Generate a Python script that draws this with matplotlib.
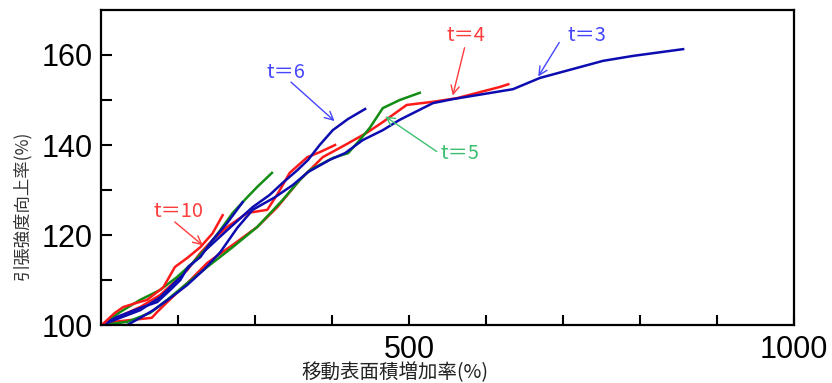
import matplotlib
matplotlib.use('Agg')
import matplotlib.pyplot as plt

# curves (x: surface area increase %, y: tensile strength increase %)
red_t10_x = [101, 118, 129, 142, 160, 181, 196, 212, 229, 245, 258]
red_t10_y = [100, 102.7, 104, 104.7, 105.6, 108.4, 112.9, 114.9, 117.3, 120.4, 124.4]

blue_s_x = [101, 121, 151, 173, 190, 203, 213, 229, 245, 264, 284]
blue_s_y = [100, 101.8, 103.8, 105.1, 107.8, 110, 112.9, 115.1, 118.9, 122.7, 127.3]

green_s_x = [101, 125, 151, 177, 199, 219, 238, 255, 271, 290, 303, 322]
green_s_y = [100, 102.9, 105.6, 107.8, 110.7, 113.8, 117.3, 121.1, 124.9, 128.4, 130.7, 133.8]

blue_t6_x = [101, 125, 151, 177, 199, 229, 264, 297, 319, 336, 355, 369, 384, 401, 421, 443]
blue_t6_y = [100, 101.6, 103.3, 106.2, 110, 115.6, 121.1, 126.2, 128.9, 131.6, 134.4, 136.7, 140, 143.3, 145.8, 148]

blue_t3_x = [134, 151, 168, 190, 212, 233, 255, 277, 297, 326, 349, 369, 397, 417, 440, 466, 488,
             531, 557, 635, 670, 752, 791, 856]
blue_t3_y = [100, 101.6, 103.3, 106, 108.9, 112.2, 116.2, 121.6, 125.6, 128.4, 131.1, 134, 136.7, 138.2,
             141.1, 143.3, 145.6, 149.3, 150.2, 152.4, 154.9, 158.7, 159.8, 161.3]

green_t5_x = [101, 134, 164, 186, 212, 238, 271, 303, 336, 358, 371, 401, 421, 436, 449, 466, 488, 514]
green_t5_y = [100, 100.7, 102.7, 105.6, 109.3, 112.9, 117.3, 121.8, 127.8, 132.2, 134.4, 137.1, 138.2,
              141.1, 143.8, 148.2, 150, 151.6]

red_t4_x = [101, 116, 166, 173, 186, 212, 238, 271, 303, 329, 358, 388, 417, 445, 466, 497, 531, 562, 618, 629]
red_t4_y = [100, 100.7, 101.6, 102.9, 105.1, 109.3, 113.8, 117.8, 121.8, 126.2, 132.2, 137.3, 140, 142.7,
            145.1, 148.9, 149.6, 150.4, 152.9, 153.5]

red_m_x = [101, 125, 151, 177, 194, 212, 229, 245, 264, 290, 316, 330, 345, 368, 384, 404]
red_m_y = [100, 102, 104, 106.7, 109.3, 112.2, 116, 118.9, 121.8, 124.9, 125.6, 129.3, 133.8, 137.3, 138.4, 140]

# annotation labels: text, text pos, arrow tail, arrow head
ann_text = ['t＝10', 't＝6', 't＝5', 't＝4', 't＝3']
ann_pos = [(200, 125.3), (340, 156), (566, 138.2), (574, 164.3), (731, 164.3)]
ann_tail = [(193, 123.3), (344, 154.4), (539, 138.2), (573, 162.2), (697, 163.3)]
ann_head = [(235, 117.3), (406, 144.9), (466, 146.7), (556, 150.4), (666, 154.7)]
ann_color = ['#ff3c3c', '#4646ff', '#3cc070', '#ff3c3c', '#4646ff']

red = '#ff1a1a'
green = '#128c12'
blue = '#0c0cb0'

fig = plt.figure(figsize=(8.32, 3.83), dpi=100)
ax = fig.add_axes([0.1214, 0.1514, 0.8329, 0.8225])

lw = 1.8
ax.plot(red_t4_x, red_t4_y, color=red, lw=lw)
ax.plot(green_t5_x, green_t5_y, color=green, lw=lw)
ax.plot(red_m_x, red_m_y, color=red, lw=lw)
ax.plot(blue_t3_x, blue_t3_y, color=blue, lw=lw)
ax.plot(blue_t6_x, blue_t6_y, color=blue, lw=lw)
ax.plot(green_s_x, green_s_y, color=green, lw=lw)
ax.plot(blue_s_x, blue_s_y, color=blue, lw=lw)
ax.plot(red_t10_x, red_t10_y, color=red, lw=lw)

cjk = ['Noto Sans CJK JP', 'DejaVu Sans']
for txt, pos, tail, head, c in zip(ann_text, ann_pos, ann_tail, ann_head, ann_color):
    ax.text(pos[0], pos[1], txt, color=c, fontsize=14.5, family=cjk, ha='center', va='center')
    ax.annotate('', xy=head, xytext=tail,
                arrowprops=dict(arrowstyle='->', color=c, lw=1.0, mutation_scale=15))

ax.set_xlim(100, 1000)
ax.set_ylim(100, 170)
ax.set_xticks(range(200, 1001, 100))
ax.set_xticklabels(['500' if v == 500 else ('1000' if v == 1000 else '') for v in range(200, 1001, 100)])
ax.set_yticks(range(100, 161, 10))
ax.set_yticklabels([str(v) if v % 20 == 0 else '' for v in range(100, 161, 10)])
ax.tick_params(axis='x', direction='in', length=7, width=1.5, pad=7, labelsize=22)
ax.tick_params(axis='y', direction='in', length=8, width=1.5, pad=6, labelsize=22)
for lab in ax.get_xticklabels() + ax.get_yticklabels():
    lab.set_family('Liberation Sans')
for s in ax.spines.values():
    s.set_linewidth(1.6)

fig.text(0.475, 0.028, '移動表面積増加率(%)', family=cjk, fontsize=14, ha='center', va='center', color='#222222')
fig.text(0.027, 0.465, '引張強度向上率(%)', family=cjk, fontsize=12.5, ha='center', va='center',
         rotation=90, color='#333333')

fig.savefig('out.png', dpi=100)
